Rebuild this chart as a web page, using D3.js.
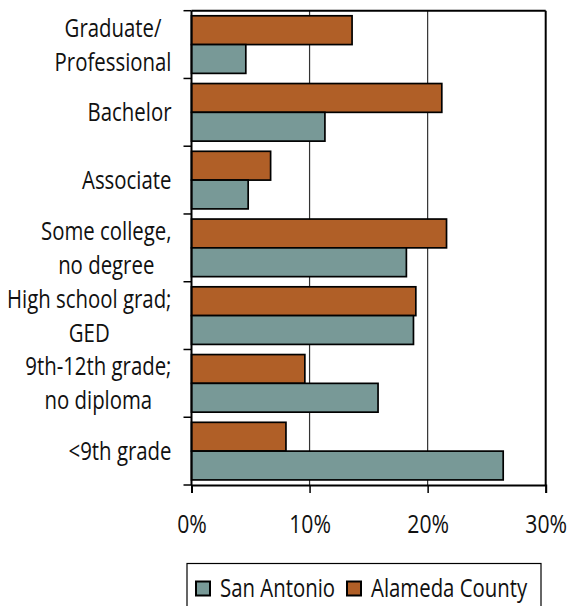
<!DOCTYPE html>
<html lang="en">
<head>
    <meta charset="UTF-8">
    <title>Educational attainment</title>
    <script src="https://d3js.org/d3.v7.min.js"></script>
    <style>
        body { margin: 0; background: #fff; }
        text {
            font-family: "Open Sans", "Noto Sans", sans-serif;
            fill: #111;
        }
        .cat-label { font-size: 25px; }
        .tick-label { font-size: 26px; }
        .legend-label { font-size: 25px; }
    </style>
</head>
<body>
    <div id="chart"></div>

    <script>
        // data (percent)
        const categories = [
            "Graduate/\nProfessional",
            "Bachelor",
            "Associate",
            "Some college,\nno degree",
            "High school grad;\nGED",
            "9th-12th grade;\nno diploma",
            "<9th grade"
        ];
        const sanAntonio = [4.6, 11.3, 4.8, 18.2, 18.8, 15.8, 26.4];
        const alameda = [13.6, 21.2, 6.7, 21.6, 19.0, 9.6, 8.0];
        const xTicks = [0, 10, 20, 30];
        const seriesNames = ["Alameda County", "San Antonio"];   // order inside each group, top first
        const legendNames = ["San Antonio", "Alameda County"];
        const colors = { "San Antonio": "#789997", "Alameda County": "#b05f27" };

        // the original face is a narrow humanist sans; squeeze Open Sans to match
        const squeeze = 0.815;

        const totalW = 571, totalH = 606;
        const margin = { top: 10.7, right: 25.3, bottom: 121, left: 191.5 };
        const width = totalW - margin.left - margin.right,
              height = totalH - margin.top - margin.bottom;

        const svgRoot = d3.select("#chart").append("svg")
            .attr("width", totalW)
            .attr("height", totalH);

        const svg = svgRoot.append("g")
            .attr("transform", `translate(${margin.left},${margin.top})`);

        const x = d3.scaleLinear().domain([0, 30]).range([0, width]);
        const y = d3.scaleBand().domain(categories).range([0, height])
            .paddingInner(0.15).paddingOuter(0.075);
        const ySub = d3.scaleBand().domain(seriesNames).range([0, y.bandwidth()]);

        const rows = categories.map((c, i) => ({
            cat: c,
            values: [
                { name: "Alameda County", value: alameda[i] },
                { name: "San Antonio", value: sanAntonio[i] }
            ]
        }));

        function place(sel, px, py) {
            sel.attr("x", 0).attr("y", 0).attr("dy", 0)
               .attr("transform", `translate(${px},${py}) scale(${squeeze},1)`);
        }

        // gridlines
        svg.selectAll(".grid")
            .data(xTicks.filter(t => t > 0 && t < 30))
            .enter().append("line")
            .attr("class", "grid")
            .attr("x1", d => x(d)).attr("x2", d => x(d))
            .attr("y1", 0).attr("y2", height)
            .attr("stroke", "#333")
            .attr("stroke-width", 1.2);

        // bars
        const groups = svg.selectAll(".group")
            .data(rows)
            .enter().append("g")
            .attr("class", "group")
            .attr("transform", d => `translate(0,${y(d.cat)})`);

        groups.selectAll("rect")
            .data(d => d.values)
            .enter().append("rect")
            .attr("x", x(0))
            .attr("y", d => ySub(d.name))
            .attr("width", d => x(d.value) - x(0))
            .attr("height", ySub.bandwidth())
            .attr("fill", d => colors[d.name])
            .attr("stroke", "#000")
            .attr("stroke-width", 1.7);

        // frame: top and right
        svg.append("line")
            .attr("x1", 0).attr("x2", width).attr("y1", 0).attr("y2", 0)
            .attr("stroke", "#000").attr("stroke-width", 2);
        svg.append("line")
            .attr("x1", width).attr("x2", width).attr("y1", 0).attr("y2", height)
            .attr("stroke", "#000").attr("stroke-width", 2);

        // x axis
        const xAxis = svg.append("g")
            .attr("transform", `translate(0,${height})`)
            .call(d3.axisBottom(x).tickValues(xTicks).tickSize(8).tickFormat(d => d + "%"));
        xAxis.attr("font-size", null).attr("font-family", null);
        xAxis.select(".domain").attr("stroke", "#000").attr("stroke-width", 2);
        xAxis.selectAll(".tick line").attr("stroke", "#000").attr("stroke-width", 1.5);
        xAxis.selectAll(".tick text")
            .attr("class", "tick-label")
            .call(place, 0, 48);

        // y axis, ticks between categories
        const yTicks = categories.map((c, i) => i === 0 ? 0 : y(c) - y.step() * y.paddingInner() / 2)
            .concat([height]);
        svg.append("line")
            .attr("x1", 0).attr("x2", 0).attr("y1", 0).attr("y2", height)
            .attr("stroke", "#000").attr("stroke-width", 2);
        svg.selectAll(".ytick")
            .data(yTicks)
            .enter().append("line")
            .attr("class", "ytick")
            .attr("x1", -8).attr("x2", 0)
            .attr("y1", d => d).attr("y2", d => d)
            .attr("stroke", "#000").attr("stroke-width", 1.5);

        // category labels: centred block, right edge near the axis
        const lineH = 34;
        const labelRight = -20;
        rows.forEach(r => {
            const lines = r.cat.split("\n");
            const cy = y(r.cat) + y.bandwidth() / 2;
            const g = svg.append("g").attr("class", "cat-group");
            const texts = g.selectAll("text")
                .data(lines)
                .enter().append("text")
                .attr("class", "cat-label")
                .attr("text-anchor", "middle")
                .text(d => d);
            const maxW = d3.max(texts.nodes(), n => n.getComputedTextLength()) * squeeze;
            const capH = 25 * 0.72;
            const firstBase = cy + capH / 2 - (lines.length - 1) * lineH / 2;
            texts.each(function (d, i) {
                d3.select(this).call(place, labelRight - maxW / 2, firstBase + i * lineH);
            });
        });

        // legend
        const legend = svgRoot.append("g").attr("transform", "translate(187,563.5)");
        legend.append("rect")
            .attr("x", 0).attr("y", 0)
            .attr("width", 354).attr("height", 60)
            .attr("fill", "#fff")
            .attr("stroke", "#000")
            .attr("stroke-width", 1.2);
        const legendX = [9, 160];
        legendNames.forEach((name, i) => {
            legend.append("rect")
                .attr("x", legendX[i]).attr("y", 18)
                .attr("width", 14).attr("height", 14)
                .attr("fill", colors[name])
                .attr("stroke", "#000")
                .attr("stroke-width", 2);
            legend.append("text")
                .attr("class", "legend-label")
                .text(name)
                .call(place, legendX[i] + 24, 33);
        });
    </script>
</body>
</html>
